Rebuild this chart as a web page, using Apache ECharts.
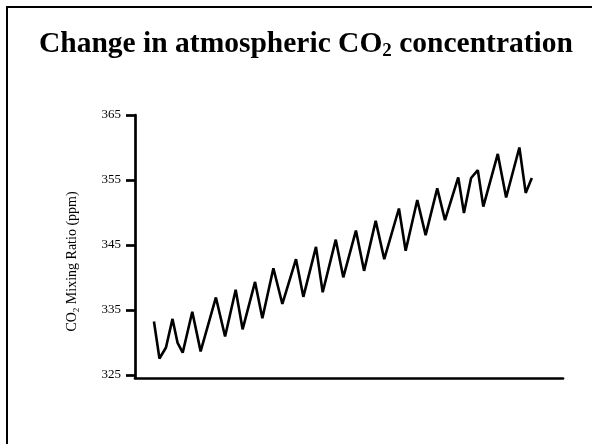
<!DOCTYPE html>
<html>
<head>
<meta charset="utf-8">
<script src="https://cdn.jsdelivr.net/npm/echarts@6/dist/echarts.min.js"></script>
<style>
  html, body { margin: 0; padding: 0; background: #fff; }
  #chart { width: 592px; height: 444px; }
</style>
</head>
<body>
<div id="chart"></div>
<script>
// Time (decimal years, estimated) and CO2 mixing ratio (ppm)
const years = [1975.93, 1976.20, 1976.52, 1976.84, 1977.09, 1977.34, 1977.81, 1978.22, 1978.97, 1979.42,
  1979.94, 1980.28, 1980.89, 1981.25, 1981.79, 1982.23, 1982.90, 1983.26, 1983.88, 1984.21,
  1984.85, 1985.22, 1985.84, 1986.24, 1986.81, 1987.23, 1987.95, 1988.28, 1988.85, 1989.26,
  1989.83, 1990.21, 1990.86, 1991.14, 1991.49, 1991.82, 1992.09, 1992.80, 1993.21, 1993.86,
  1994.17, 1994.47];
const co2 = [333.2, 327.5, 329.2, 333.6, 329.9, 328.4, 334.7, 328.6, 336.9, 330.9,
  338.1, 332.0, 339.3, 333.7, 341.4, 335.9, 342.8, 337.0, 344.7, 337.7,
  345.8, 340.0, 347.2, 341.0, 348.7, 342.8, 350.6, 344.1, 351.9, 346.5,
  353.7, 348.8, 355.4, 349.9, 355.3, 356.5, 350.9, 359.0, 352.3, 360.0,
  353.0, 355.3];
const yTicks = [325, 335, 345, 355, 365];

const seriesData = years.map((t, i) => [t, co2[i]]);
const serif = '"Liberation Serif", "DejaVu Serif", serif';

const chart = echarts.init(document.getElementById('chart'), null, { renderer: 'canvas' });
chart.setOption({
  animation: false,
  backgroundColor: '#ffffff',
  graphic: [{
    type: 'rect',
    shape: { x: 7, y: 7, width: 640, height: 520 },
    style: { fill: 'none', stroke: '#000', lineWidth: 2 },
    silent: true
  }],
  title: {
    text: '{a|Change in atmospheric CO}{s|2}{a| concentration}',
    left: 34,
    top: 22,
    textStyle: {
      rich: {
        a: { fontFamily: serif, fontWeight: 'bold', fontSize: 29.5, color: '#000' },
        s: { fontFamily: serif, fontWeight: 'bold', fontSize: 19, color: '#000', padding: [15, 0, 0, 0] }
      }
    }
  },
  grid: { left: 135, right: 29, top: 115, bottom: 66, containLabel: false },
  xAxis: {
    type: 'value',
    min: 1975,
    max: 1996,
    axisLine: { show: true, lineStyle: { color: '#000', width: 2.7 } },
    axisTick: { show: false },
    axisLabel: { show: false },
    splitLine: { show: false }
  },
  yAxis: {
    type: 'value',
    min: 324.5,
    max: 365,
    name: '{a|CO}{s|2}{a| Mixing Ratio (ppm)}',
    nameLocation: 'middle',
    nameGap: 54,
    nameTextStyle: {
      padding: [0, 30, 0, 0],
      rich: {
        a: { fontFamily: serif, fontSize: 14, color: '#000' },
        s: { fontFamily: serif, fontSize: 9, color: '#000', padding: [8, 0, 0, 0] }
      }
    },
    axisLine: { show: true, lineStyle: { color: '#000', width: 2.7 } },
    axisTick: { show: true, length: 9, lineStyle: { color: '#000', width: 2.7 }, customValues: yTicks },
    axisLabel: { show: true, color: '#000', fontFamily: serif, fontSize: 13, margin: 14, customValues: yTicks },
    splitLine: { show: false }
  },
  series: [{
    type: 'line',
    data: seriesData,
    symbol: 'none',
    lineStyle: { color: '#000', width: 2.6 },
    silent: true
  }]
});
</script>
</body>
</html>
